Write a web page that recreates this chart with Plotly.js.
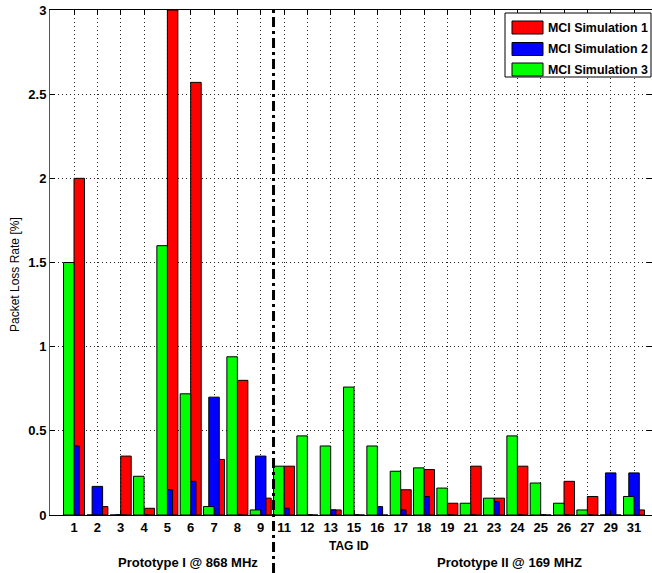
<!DOCTYPE html>
<html><head><meta charset="utf-8">
<script src="https://cdn.plot.ly/plotly-3.0.1.min.js"></script>
<style>html,body{margin:0;padding:0;background:#fff}#chart{width:652px;height:573px}</style>
</head><body><div id="chart"></div>
<script>
// ---- data ----
const tagIds = ['1','2','3','4','5','6','7','8','9','11','12','13','15','16','17','18','19','21','23','24','25','26','27','29','31'];
const sim1 = [2.0,0.05,0.35,0.04,3.0,2.57,0.33,0.80,0.10,0.29,0,0.03,0,0,0.15,0.27,0.07,0.29,0.10,0.29,0,0.20,0.11,0,0.03];
const sim2 = [0.41,0.17,0,0,0.15,0.20,0.70,0,0.35,0.04,0,0.03,0,0.05,0.03,0.11,0,0,0.08,0,0,0,0,0.25,0.25];
const sim3 = [1.50,0,0,0.23,1.60,0.72,0.05,0.94,0.03,0.29,0.47,0.41,0.76,0.41,0.26,0.28,0.16,0.07,0.10,0.47,0.19,0.07,0.03,0,0.11];
const seriesNames = ['MCI Simulation 1','MCI Simulation 2','MCI Simulation 3'];
const seriesColors = ['#ff0000','#0000ff','#00ff00'];
const yTickVals = [0,0.5,1,1.5,2,2.5,3];
const yTickText = ['0','0.5','1','1.5','2','2.5','3'];
const xTitle = 'TAG ID';
const yTitle = 'Packet Loss Rate [%]';
const groupLabels = ['Prototype I @ 868 MHz','Prototype II @ 169 MHZ'];

// ---- layout helpers (pixel -> paper) ----
const W = 652, H = 573, ML = 50, MR = 0, MT = 10, MB = 58;
const PW = W - ML - MR, PH = H - MT - MB;
const px = x => (x - ML) / PW;
const py = y => (H - MB - y) / PH;

const BW = 0.45;
const offsets = [0.0, -0.225, -0.45]; // red right, blue centre, green left
const series = [sim1, sim2, sim3];
const traces = series.map((vals, i) => ({
  type: 'bar', x: tagIds, y: vals, name: seriesNames[i],
  width: BW, offset: offsets[i],
  marker: {color: seriesColors[i], line: {color: '#000', width: 1}},
  showlegend: false, hoverinfo: 'x+y+name'
}));

const FAM = 'Liberation Sans, Arial, sans-serif';
const boldFont = {family: FAM, size: 12, color: '#000', weight: 'bold'};
const boldFont13 = {family: FAM, size: 13, color: '#000', weight: 'bold'};

const shapes = [];
const annotations = [];
// divider between prototypes
const divX = tagIds.indexOf('9') + 0.55;
shapes.push({type: 'line', xref: 'x', yref: 'paper', x0: divX, x1: divX, y0: py(573), y1: 1,
  line: {color: '#000', width: 3, dash: '10px,4px,3px,4px'}});
// legend box
shapes.push({type: 'rect', xref: 'paper', yref: 'paper', x0: px(505), x1: px(651), y0: py(77), y1: py(13),
  fillcolor: '#fff', line: {color: '#000', width: 1}, layer: 'above'});
const rowY = [27.5, 49, 69.5];
seriesNames.forEach((n, i) => {
  shapes.push({type: 'rect', xref: 'paper', yref: 'paper', x0: px(512), x1: px(543),
    y0: py(rowY[i] + 6.5), y1: py(rowY[i] - 6.5), fillcolor: seriesColors[i],
    line: {color: '#000', width: 1}, layer: 'above'});
  annotations.push({xref: 'paper', yref: 'paper', x: px(546), y: py(rowY[i]), xanchor: 'left', yanchor: 'middle',
    text: n, showarrow: false, font: {family: FAM, size: 12.4, color: '#000', weight: 'bold'}});
});
// axis titles and group labels
annotations.push({xref: 'paper', yref: 'paper', x: px(349), y: py(546), xanchor: 'center', yanchor: 'middle',
  text: xTitle, showarrow: false, font: boldFont});
annotations.push({xref: 'paper', yref: 'paper', x: px(15), y: py(275), xanchor: 'center', yanchor: 'middle',
  text: yTitle, textangle: -90, showarrow: false,
  font: {family: FAM, size: 12, color: '#000'}});
annotations.push({xref: 'paper', yref: 'paper', x: px(188), y: py(562), xanchor: 'center', yanchor: 'middle',
  text: groupLabels[0], showarrow: false, font: boldFont13});
annotations.push({xref: 'paper', yref: 'paper', x: px(509), y: py(562), xanchor: 'center', yanchor: 'middle',
  text: groupLabels[1], showarrow: false, font: boldFont13});

const layout = {
  width: W, height: H, margin: {l: ML, r: MR, t: MT, b: MB},
  paper_bgcolor: '#fff', plot_bgcolor: '#fff',
  barmode: 'overlay', showlegend: false,
  xaxis: {type: 'category', range: [-1.03, 24.77], showgrid: true, gridcolor: '#222', griddash: '1px,3px', gridwidth: 1,
    ticks: 'inside', ticklen: 5, tickcolor: '#000', showline: true, linecolor: '#000', linewidth: 1, mirror: 'ticks',
    tickfont: boldFont13, zeroline: false, fixedrange: true},
  yaxis: {range: [0, 3], tickvals: yTickVals, ticktext: yTickText, showgrid: true, gridcolor: '#222', griddash: '1px,3px',
    ticks: 'inside', ticklen: 5, tickcolor: '#000', showline: true, linecolor: '#555', linewidth: 1, mirror: 'ticks',
    tickfont: boldFont13, zeroline: false, fixedrange: true},
  shapes: shapes, annotations: annotations
};
Plotly.newPlot('chart', traces, layout, {staticPlot: true});
</script></body></html>
